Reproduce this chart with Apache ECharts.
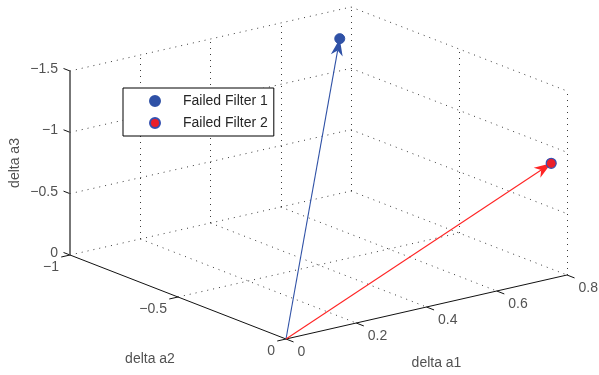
<!DOCTYPE html>
<html><head><meta charset="utf-8">
<script src="https://cdn.jsdelivr.net/npm/echarts@6/dist/echarts.min.js"></script>
<style>html,body{margin:0;padding:0;background:#fff}#c{width:599px;height:375px}</style>
</head><body><div id="c"></div>
<script>
// ---- data ----
const a1Ticks = [0, 0.2, 0.4, 0.6, 0.8];
const a2Ticks = [-1, -0.5, 0];
const a3Ticks = [0, -0.5, -1, -1.5];
const a1TickLabels = ['0', '0.2', '0.4', '0.6', '0.8'];
const a2TickLabels = ['\u22121', '\u22120.5', '0'];
const a3TickLabels = ['0', '\u22120.5', '\u22121', '\u22121.5'];
const axisTitles = ['delta a1', 'delta a2', 'delta a3'];
const seriesNames = ['Failed Filter 1', 'Failed Filter 2'];
const vectorOrigin = [0, 0, 0];
const filter1 = [0.645, -0.8, -1.48];
const filter2 = [0.755, 0, -0.94];

// ---- view (orthographic projection of the 3D box onto the 2D plane) ----
const A1 = [0, 0.8], A2 = [-1, 0], A3 = [-1.5, 0];
const VIEW = { o: [286, 339], e1: [351.25, -80], e2: [216, 84], e3: [0, 122.67] };
function P(p) {
  return [VIEW.o[0] + p[0] * VIEW.e1[0] + p[1] * VIEW.e2[0] + p[2] * VIEW.e3[0],
          VIEW.o[1] + p[0] * VIEW.e1[1] + p[1] * VIEW.e2[1] + p[2] * VIEW.e3[1]];
}
function seg(p, q) { return { coords: [P(p), P(q)] }; }

const FONT = '"Liberation Sans", Arial, Helvetica, sans-serif';
const TXT = '#262626';
const BLUE = '#2f51a6', RED = '#ff2424';

// grid lines on back planes
const gridSegs = [];
a3Ticks.forEach(z => {
  gridSegs.push(seg([A1[0], A2[0], z], [A1[1], A2[0], z]));   // back wall (a2 = -1)
  gridSegs.push(seg([A1[1], A2[0], z], [A1[1], A2[1], z]));   // right wall (a1 = 0.8)
});
a1Ticks.filter(x => x > A1[0]).forEach(x => {
  gridSegs.push(seg([x, A2[0], A3[1]], [x, A2[0], A3[0]]));   // back wall verticals
  if (x < A1[1]) gridSegs.push(seg([x, A2[0], A3[1]], [x, A2[1], A3[1]])); // floor
});
a2Ticks.filter(y => y > A2[0]).forEach(y => {
  gridSegs.push(seg([A1[1], y, A3[1]], [A1[1], y, A3[0]]));   // right wall verticals
  if (y < A2[1]) gridSegs.push(seg([A1[0], y, A3[1]], [A1[1], y, A3[1]])); // floor
});

// axes
const axisSegs = [
  seg([A1[0], A2[0], A3[1]], [A1[0], A2[1], A3[1]]),
  seg([A1[0], A2[1], A3[1]], [A1[1], A2[1], A3[1]])
];
const zAxisSeg = [seg([A1[0], A2[0], A3[1]], [A1[0], A2[0], A3[0]])];
const tickSegs = [];
a1Ticks.forEach(x => tickSegs.push(seg([x, A2[1], A3[1]], [x, A2[1] + 0.035, A3[1]])));
a2Ticks.forEach(y => tickSegs.push(seg([A1[0], y, A3[1]], [A1[0] - 0.025, y, A3[1]])));
a3Ticks.forEach(z => tickSegs.push(seg([A1[0], A2[0], z], [A1[0], A2[0] - 0.03, z])));

function labelSeries(points, texts, label) {
  return {
    type: 'scatter', symbolSize: 1, silent: true, z: 5,
    itemStyle: { color: 'rgba(0,0,0,0)' },
    data: points.map((p, i) => ({ value: P(p), name: texts[i] })),
    label: Object.assign({ show: true, position: 'inside', formatter: '{b}',
      fontFamily: FONT, fontSize: 14, color: TXT }, label)
  };
}

const arrowData = [filter1, filter2].map(f => P(vectorOrigin).concat(P(f)));

const option = {
  animation: false,
  backgroundColor: '#fff',
  grid: { left: 0, right: 0, top: 0, bottom: 0 },
  xAxis: { type: 'value', min: 0, max: 599, show: false },
  yAxis: { type: 'value', min: 0, max: 375, inverse: true, show: false },
  legend: {
    orient: 'vertical', left: 123, top: 88,
    itemWidth: 10, itemHeight: 10, itemGap: 8,
    padding: [6, 6, 6, 26],
    borderColor: '#000', borderWidth: 1, borderRadius: 0, backgroundColor: '#fff',
    textStyle: { fontFamily: FONT, fontSize: 14, color: TXT, padding: [0, 0, 0, 18] },
    data: seriesNames.map(n => ({ name: n, icon: 'circle' }))
  },
  series: [
    { type: 'lines', coordinateSystem: 'cartesian2d', silent: true, z: 1,
      lineStyle: { color: '#3a3a3a', width: 1, type: [1, 5], opacity: 1 }, data: gridSegs },
    { type: 'lines', coordinateSystem: 'cartesian2d', silent: true, z: 2,
      lineStyle: { color: '#111', width: 1, opacity: 1 }, data: axisSegs.concat(tickSegs) },
    { type: 'lines', coordinateSystem: 'cartesian2d', silent: true, z: 2,
      lineStyle: { color: '#555', width: 1.6, opacity: 1 }, data: zAxisSeg },
    { type: 'custom', silent: true, z: 3,
      data: arrowData,
      renderItem: function (params, api) {
        const s = api.coord([api.value(0), api.value(1)]);
        const e = api.coord([api.value(2), api.value(3)]);
        const color = params.dataIndex === 0 ? BLUE : RED;
        const dx = e[0] - s[0], dy = e[1] - s[1], L = Math.hypot(dx, dy);
        const ux = dx / L, uy = dy / L, nx = -uy, ny = ux;
        const hl = 17, hw = 6, notch = 5;
        const b = [e[0] - ux * hl, e[1] - uy * hl];
        const m = [e[0] - ux * (hl - notch), e[1] - uy * (hl - notch)];
        return { type: 'group', children: [
          { type: 'line', shape: { x1: s[0], y1: s[1], x2: m[0], y2: m[1] },
            style: { stroke: color, lineWidth: 1.1 } },
          { type: 'polygon', shape: { points: [e, [b[0] + nx * hw, b[1] + ny * hw], m, [b[0] - nx * hw, b[1] - ny * hw]] },
            style: { fill: color } }
        ] };
      }
    },
    { type: 'scatter', name: seriesNames[0], z: 4, symbol: 'circle', symbolSize: 10,
      itemStyle: { color: BLUE, borderColor: BLUE, borderWidth: 1, opacity: 1 }, data: [P(filter1)] },
    { type: 'scatter', name: seriesNames[1], z: 4, symbol: 'circle', symbolSize: 10,
      itemStyle: { color: '#ea1f2a', borderColor: '#3550b0', borderWidth: 1.2, opacity: 1 }, data: [P(filter2)] },
    labelSeries(a3Ticks.map(z => [A1[0], A2[0], z]), a3TickLabels,
      { align: 'right', verticalAlign: 'middle', offset: [-12, -2] }),
    labelSeries(a2Ticks.map(y => [A1[0], y, A3[1]]), a2TickLabels,
      { align: 'right', verticalAlign: 'middle', offset: [-11, 12] }),
    labelSeries(a1Ticks.map(x => [x, A2[1], A3[1]]), a1TickLabels,
      { align: 'left', verticalAlign: 'middle', offset: [11.5, 13.5] }),
    labelSeries([[(A1[0] + A1[1]) / 2, A2[1], A3[1]]], [axisTitles[0]],
      { align: 'center', verticalAlign: 'middle', offset: [10, 56] }),
    labelSeries([[A1[0], (A2[0] + A2[1]) / 2, A3[1]]], [axisTitles[1]],
      { align: 'center', verticalAlign: 'middle', offset: [-28, 62] }),
    labelSeries([[A1[0], A2[0], (A3[0] + A3[1]) / 2]], [axisTitles[2]],
      { align: 'center', verticalAlign: 'middle', offset: [0, -55], rotate: 90 })
  ]
};
const chart = echarts.init(document.getElementById('c'), null, { renderer: 'canvas' });
chart.setOption(option);
</script></body></html>
